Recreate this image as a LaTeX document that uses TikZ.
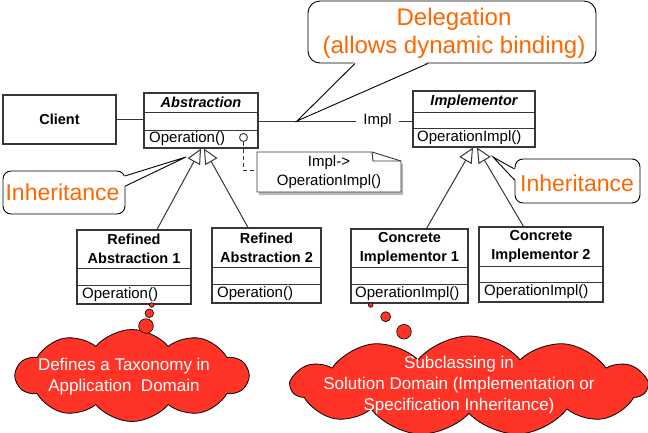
\documentclass[tikz,border=0pt]{standalone}
\usepackage{fontspec}
\setmainfont{Liberation Sans}
\usetikzlibrary{shapes.symbols,shadows,arrows.meta}
\definecolor{orng}{RGB}{255,102,0}
\definecolor{cloudred}{RGB}{255,52,38}
\definecolor{umlline}{RGB}{55,55,55}
\begin{document}
\begin{tikzpicture}[x=1pt,y=-1pt,
  umlbox/.style={draw=umlline, line width=1.1pt, fill=white, inner sep=0pt, rectangle},
  umltxt/.style={font=\fontsize{15}{17}\selectfont, inner sep=0pt},
  umltitle/.style={font=\fontsize{14.5}{19}\selectfont\bfseries, align=center, inner sep=0pt},
  sep/.style={draw=umlline, line width=1pt},
  assoc/.style={draw=umlline, line width=1pt},
  gen/.style={draw=umlline, line width=1pt, -{Triangle[open, length=15pt, width=14pt]}},
  callout/.style={draw=black, line width=0.9pt, fill=white, rounded corners=9pt, inner sep=0pt},
  pointer/.style={draw=black, line width=0.9pt},
  orngtxt/.style={text=orng, font=\fontsize{23}{28}\selectfont, align=center, inner sep=0pt},
  puff/.style={cloud, cloud puffs=10, cloud puff arc=100, cloud ignores aspect, draw=black, line width=0.8pt, fill=cloudred, inner sep=0pt},
  bubble/.style={circle, draw=black, line width=0.6pt, fill=cloudred, inner sep=0pt},
  cloudtxt/.style={text=white, font=\fontsize{17}{21}\selectfont, align=center, inner sep=0pt}
]
\useasboundingbox[fill=white] (0,0) rectangle (648,432);

% ---------- Client ----------
\node[umlbox, minimum width=113pt, minimum height=49pt] (client) at (59.5,119.5) {};
\node[umltitle] (clientT) at (client.center) {Client};

% ---------- Abstraction ----------
\node[umlbox, minimum width=114pt, minimum height=55pt] (abs) at (201,120.5) {};
\node[umltitle, font=\fontsize{14.5}{16}\selectfont\bfseries\itshape] (absT) at (201,102.5) {Abstraction};
\draw[sep] (abs.west |- 0,112) -- (abs.east |- 0,112);
\draw[sep] (abs.west |- 0,130) -- (abs.east |- 0,130);
\node[umltxt, anchor=west] (absOp) at (149,139) {Operation()};
\node[circle, draw=umlline, line width=0.9pt, minimum size=8pt, inner sep=0pt, fill=white] (absDot) at (243.5,137.5) {};

% ---------- Implementor ----------
\node[umlbox, minimum width=122pt, minimum height=56pt] (implr) at (474,119) {};
\node[umltitle, font=\fontsize{14.5}{16}\selectfont\bfseries\itshape] (implrT) at (474,101.5) {Implementor};
\draw[sep] (implr.west |- 0,112) -- (implr.east |- 0,112);
\draw[sep] (implr.west |- 0,128) -- (implr.east |- 0,128);
\node[umltxt, anchor=west] (implrOp) at (417,137.5) {OperationImpl()};

% ---------- Refined Abstraction 1 ----------
\node[umlbox, minimum width=114pt, minimum height=74pt] (ra1) at (134,267) {};
\node[umltitle] (ra1T) at (134,248.5) {Refined\\Abstraction 1};
\draw[sep] (ra1.west |- 0,268) -- (ra1.east |- 0,268);
\draw[sep] (ra1.west |- 0,285) -- (ra1.east |- 0,285);
\node[umltxt, anchor=west] (ra1Op) at (82,294.5) {Operation()};

% ---------- Refined Abstraction 2 ----------
\node[umlbox, minimum width=109pt, minimum height=75pt] (ra2) at (266.5,265.5) {};
\node[umltitle] (ra2T) at (266.5,247.5) {Refined\\Abstraction 2};
\draw[sep] (ra2.west |- 0,267) -- (ra2.east |- 0,267);
\draw[sep] (ra2.west |- 0,284) -- (ra2.east |- 0,284);
\node[umltxt, anchor=west] (ra2Op) at (217,293.5) {Operation()};

% ---------- Concrete Implementor 1 ----------
\node[umlbox, minimum width=117pt, minimum height=74pt] (ci1) at (409.5,266) {};
\node[umltitle] (ci1T) at (409.5,248) {Concrete\\Implementor 1};
\draw[sep] (ci1.west |- 0,267) -- (ci1.east |- 0,267);
\draw[sep] (ci1.west |- 0,284) -- (ci1.east |- 0,284);
\node[umltxt, anchor=west] (ci1Op) at (355,293.5) {OperationImpl()};

% ---------- Concrete Implementor 2 ----------
\node[umlbox, minimum width=124pt, minimum height=75pt] (ci2) at (541,264.5) {};
\node[umltitle] (ci2T) at (541,246.5) {Concrete\\Implementor 2};
\draw[sep] (ci2.west |- 0,266) -- (ci2.east |- 0,266);
\draw[sep] (ci2.west |- 0,282) -- (ci2.east |- 0,282);
\node[umltxt, anchor=west] (ci2Op) at (484,292) {OperationImpl()};

% ---------- associations ----------
\draw[assoc] (client.east) -- (client.east -| abs.west);
\node[umltxt, inner xsep=7pt] (impl) at (377.5,121) {Impl};
\draw[assoc] (abs.east |- impl) -- (impl.west);
\draw[assoc] (impl.east) -- (impl.east -| implr.west);

% ---------- generalizations ----------
\draw[gen] ([xshift=23pt]ra1.north) -- (abs.south);
\draw[gen] ([xshift=-18.5pt]ra2.north) -- ([xshift=3pt]abs.south);
\draw[gen] ([xshift=17pt]ci1.north) -- ([xshift=-1pt]implr.south);
\draw[gen] ([xshift=-17.5pt]ci2.north) -- ([xshift=3pt]implr.south);

% ---------- note ----------
\draw[umlline, line width=0.9pt, fill=white,
      drop shadow={shadow xshift=2pt, shadow yshift=-3pt, opacity=0.45, fill=black!60}]
  (257,152) -- (372,152) -- (401,161) -- (401,192) -- (257,192) -- cycle;
\draw[umlline, line width=0.9pt] (372,152) -- (373,161) -- (401,161);
\node[umltxt, align=center, font=\fontsize{15}{19}\selectfont] (noteT) at (329,172.5) {Impl->\\OperationImpl()};
\coordinate (noteL) at (257,170);
\draw[umlline, line width=0.9pt, dashed, dash pattern=on 4pt off 3pt] (absDot.south) -- (absDot.south |- noteL) -- (noteL);

% ---------- Delegation callout ----------
\node[callout, rounded corners=12pt, minimum width=288pt, minimum height=62pt] (deleg) at (452,32) {};
\coordinate (delegTip) at (297,121);
\fill[white] ([xshift=-97pt,yshift=1.5pt]deleg.south) -- ([xshift=-24pt,yshift=1.5pt]deleg.south) -- (delegTip) -- cycle;
\draw[pointer] ([xshift=-97pt]deleg.south) -- (delegTip) -- ([xshift=-24pt]deleg.south);
\node[orngtxt, font=\fontsize{24}{28}\selectfont] (delegT) at (454,33) {Delegation\\(allows dynamic binding)};

% ---------- Inheritance callouts ----------
\node[callout, rounded corners=8pt, minimum width=122pt, minimum height=43pt] (inhL) at (64,192.5) {};
\coordinate (inhLtip) at (186,157);
\fill[white] ([xshift=-1.5pt,yshift=16.5pt]inhL.east) -- ([xshift=-1.5pt,yshift=6.5pt]inhL.east) -- (inhLtip) -- cycle;
\draw[pointer] ([xshift=-0.6pt,yshift=16.5pt]inhL.east) -- (inhLtip) -- ([yshift=6.5pt]inhL.east);
\node[orngtxt] (inhLT) at (62.5,192.5) {Inheritance};

\node[callout, rounded corners=8pt, minimum width=125pt, minimum height=44pt] (inhR) at (577.5,181) {};
\coordinate (inhRtip) at (493,157);
\fill[white] ([xshift=1.5pt,yshift=12pt]inhR.west) -- ([xshift=1.5pt,yshift=1pt]inhR.west) -- (inhRtip) -- cycle;
\draw[pointer] ([yshift=12pt]inhR.west) -- (inhRtip) -- ([yshift=1pt]inhR.west);
\node[orngtxt] (inhRT) at (577,183) {Inheritance};

% ---------- thought clouds ----------
\node[puff, minimum width=232pt, minimum height=92pt] (cloudL) at (132,375.5) {};
\node[cloudtxt] (cloudLT) at (124,377) {Defines a Taxonomy in\\Application\ \ Domain};
\node[bubble, minimum size=4.6pt] (bL1) at (151.7,305) {};
\node[bubble, minimum size=8.6pt] (bL2) at (149.3,313.3) {};
\node[bubble, minimum size=14.6pt] (bL3) at (146,326) {};

\node[puff, cloud puffs=11, minimum width=355pt, minimum height=100pt] (cloudR) at (469,386) {};
\node[cloudtxt] (cloudRT) at (459,385) {Subclassing in\\Solution Domain (Implementation or\\Specification Inheritance)};
\node[bubble, minimum size=4.6pt] (bR1) at (370.7,305) {};
\node[bubble, minimum size=10pt] (bR2) at (385.7,316.7) {};
\node[bubble, minimum size=14.6pt] (bR3) at (404,331.7) {};
\end{tikzpicture}
\end{document}
